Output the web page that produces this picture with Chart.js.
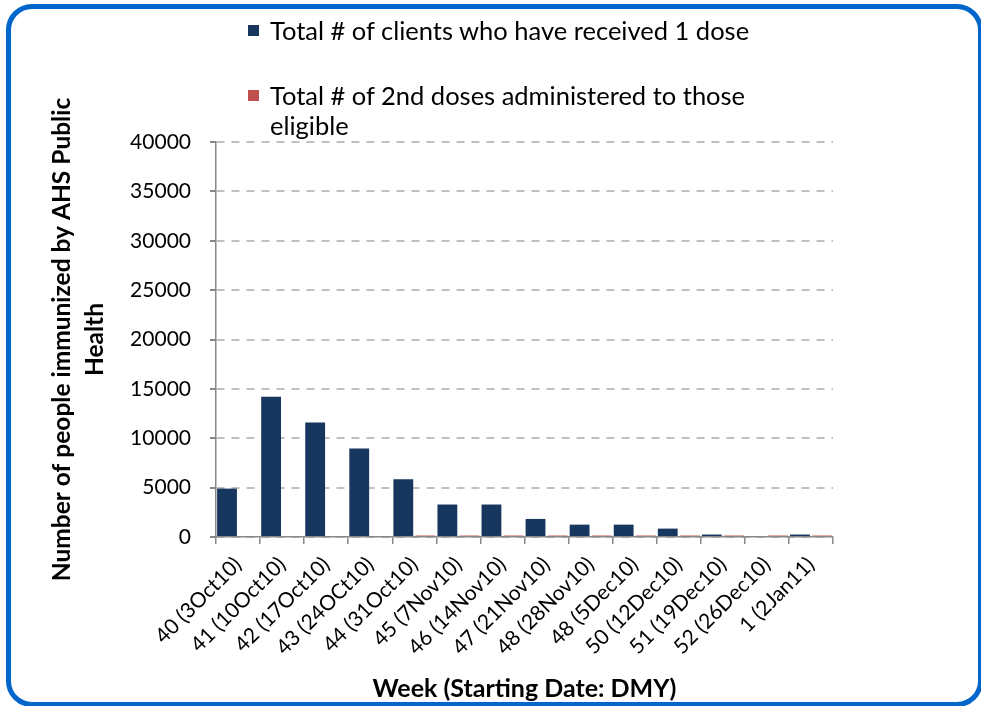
<!DOCTYPE html>
<html>
<head>
<meta charset="utf-8">
<script src="https://cdn.jsdelivr.net/npm/chart.js@4.4.1/dist/chart.umd.min.js"></script>
<style>
  html, body { margin: 0; padding: 0; background: #fff; }
  #wrap { position: relative; width: 981px; height: 706px; overflow: hidden; font-family: Lato, sans-serif; }
  #frame { position: absolute; left: 6px; top: 4px; width: 967px; height: 693px; border: 5px solid #0066cc; border-radius: 26px; }
  #mycanvas { position: absolute; left: 0; top: 0; }
  .leg { position: absolute; left: 248px; font-size: 25.5px; color: #000; line-height: 30px; white-space: nowrap; }
  .leg span.box { position: absolute; left: 0; top: 10px; width: 11px; height: 11px; }
  .leg div { padding-left: 22px; }
</style>
</head>
<body>
<div id="wrap">
  <div id="frame"></div>
  <canvas id="mycanvas" width="981" height="706"></canvas>
  <div class="leg" id="leg1" style="top:15px"><span class="box" style="background:#17375e"></span><div>Total # of clients who have received 1 dose</div></div>
  <div class="leg" id="leg2" style="top:80px"><span class="box" style="background:#c0504d"></span><div>Total # of 2nd doses administered to those<br>eligible</div></div>
</div>
<script>
var weeks = ['40 (3Oct10)', '41 (10Oct10)', '42 (17Oct10)', '43 (24OCt10)', '44 (31Oct10)', '45 (7Nov10)', '46 (14Nov10)',
  '47 (21Nov10)', '48 (28Nov10)', '48 (5Dec10)', '50 (12Dec10)', '51 (19Dec10)', '52 (26Dec10)', '1 (2Jan11)'];
var firstDose = [4900, 14200, 11600, 8950, 5850, 3290, 3290, 1830, 1250, 1250, 850, 250, 0, 250];
var secondDose = [0, 0, 0, 0, 150, 150, 150, 150, 150, 150, 150, 150, 150, 150];
var yTicks = [0, 5000, 10000, 15000, 20000, 25000, 30000, 35000, 40000];

var chartdata = {
  labels: weeks,
  datasets: [
    {
      label: 'Total # of clients who have received 1 dose',
      backgroundColor: '#17375e',
      data: firstDose
    },
    {
      label: 'Total # of 2nd doses administered to those eligible',
      backgroundColor: '#c0504d',
      data: secondDose
    }
  ]
};

var ctx = document.getElementById('mycanvas');
var barGraph = new Chart(ctx, {
  type: 'bar',
  data: chartdata,
  options: {
    responsive: false,
    animation: false,
    events: [],
    layout: { padding: { left: 0, top: 142, right: 148, bottom: 0 } },
    datasets: { bar: { categoryPercentage: 1.0, barPercentage: 0.9 } },
    plugins: { legend: { display: false }, tooltip: { enabled: false } },
    scales: {
      x: {
        afterFit: function(scale) { scale.height = 169; },
        grid: { display: true, drawOnChartArea: false, offset: true, tickLength: 7, color: '#888', lineWidth: 1.5 },
        border: { color: '#888', width: 1.5 },
        ticks: { minRotation: 45, maxRotation: 45, color: '#000', font: { family: 'Lato', size: 21 }, padding: 8 },
        title: { display: true, text: 'Week (Starting Date: DMY)', color: '#000', font: { family: 'Lato', size: 25, weight: 'bold' }, padding: { top: 0, bottom: 2 } }
      },
      y: {
        min: 0, max: 40000,
        afterFit: function(scale) { scale.width = 216; },
        afterBuildTicks: function(scale) { scale.ticks = yTicks.map(function(v) { return { value: v }; }); },
        grid: { color: '#c0c0c0', lineWidth: 2, tickLength: 6, tickColor: '#888', drawTicks: true },
        border: { color: '#888', width: 1.5, dash: [8, 7] },
        ticks: { color: '#000', font: { family: 'Lato', size: 21 }, padding: 19,
          callback: function(v) { return String(v); } },
        title: { display: true, text: ['Number of people immunized by AHS Public', 'Health'], color: '#000',
          font: { family: 'Lato', size: 24.5, weight: 'bold', lineHeight: 1.37 }, padding: { top: 45, bottom: 0 } }
      }
    }
  }
});
</script>
</body>
</html>
